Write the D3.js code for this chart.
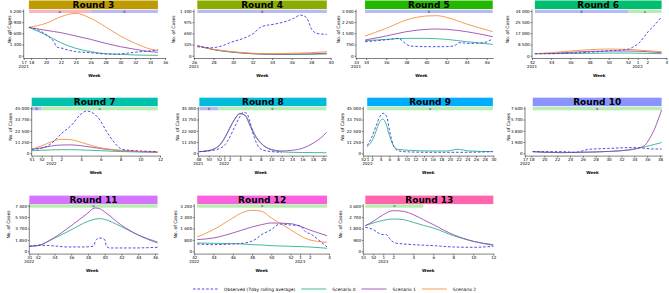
<!DOCTYPE html>
<html>
<head>
<meta charset="utf-8">
<script src="https://cdn.jsdelivr.net/npm/d3@7"></script>
<style>
  body { margin: 0; background: #fff; }
  svg text { font-family: "DejaVu Sans", sans-serif; }
</style>
</head>
<body>
<div id="chart"></div>
<script>
// ---- data (week index: weeks of the following year continue after 52) ----
const roundNames = ["Round 3","Round 4","Round 5","Round 6","Round 7","Round 8","Round 9","Round 10","Round 11","Round 12","Round 13"];
const roundColors = ["#BE9C00","#8CAB00","#24B700","#00BE70","#00C1AB","#00BBDA","#00ACFC","#8B93FF","#D575FE","#F962DD","#FF65AC"];
const seriesNames = ["Observed (7day rolling average)","Scenario 0","Scenario 1","Scenario 2"];

// Round 3
const r3Weeks = [17.7, 20, 22, 24, 26, 28, 30, 32, 34, 35.05];
const r3S0 = [3300, 2410, 1510, 860, 470, 230, 160, 80, 50, 50];
const r3S1 = [3300, 2950, 2680, 2290, 1900, 1440, 1050, 740, 470, 395];
const r3S2 = [3300, 3770, 4540, 4930, 4350, 3370, 2290, 1440, 780, 580];
const r3ObsWeeks = [17.7, 19, 20, 21, 21.5, 22, 23, 24, 26, 28, 29.5, 31, 32.5, 34, 35.05];
const r3Obs = [3300, 2950, 2450, 1700, 1000, 900, 650, 480, 350, 200, 180, 300, 450, 560, 680];
const r3XTicks = [17, 18, 20, 22, 24, 26, 28, 30, 32, 34, 36];
const r3XLabels = ["17","18","20","22","24","26","28","30","32","34","36"];
const r3YTicks = [0, 1300, 2600, 3900, 5200];
const r3Years = [[17, "2021"]];
const r3Phases = [[17.7, 26, "alpha"], [26, 35.05, "delta"]];

// Round 4
const r4Weeks = [26.34, 28, 30, 32, 34, 36, 38, 39.6];
const r4S0 = [291, 175, 100, 55, 38, 35, 40, 50];
const r4S1 = [291, 180, 105, 62, 45, 45, 55, 70];
const r4S2 = [291, 186, 116, 70, 58, 70, 87, 116];
const r4ObsWeeks = [26.34, 27.8, 28.8, 29.9, 31.05, 32.1, 32.9, 34.3, 35.3, 36.2, 36.9, 37.5, 38.1, 38.6, 39.6];
const r4Obs = [262, 233, 280, 400, 504, 649, 843, 921, 988, 1085, 1182, 1114, 746, 649, 620];
const r4XTicks = [26, 28, 30, 32, 34, 36, 38, 40];
const r4XLabels = ["26","28","30","32","34","36","38","40"];
const r4YTicks = [0, 325, 650, 975, 1300];
const r4Years = [[26, "2021"]];
const r4Phases = [[26.34, 39.6, "delta"]];

// Round 5
const r5Weeks = [33.9, 36, 38, 40, 41, 42, 44, 46.6];
const r5S0 = [1008, 1097, 1164, 1164, 1142, 1097, 940, 761];
const r5S1 = [1052, 1321, 1612, 1769, 1791, 1769, 1612, 1276];
const r5S2 = [1321, 1836, 2396, 2664, 2687, 2575, 2127, 1612];
const r5ObsWeeks = [33.9, 35.06, 36.4, 37.2, 37.9, 38.4, 40.4, 41.7, 42.7, 43.3, 44.3, 45.7, 46.5];
const r5Obs = [940, 1008, 1097, 1164, 828, 649, 605, 605, 649, 873, 828, 873, 1097];
const r5XTicks = [33, 34, 36, 38, 40, 42, 44, 46];
const r5XLabels = ["33","34","36","38","40","42","44","46"];
const r5YTicks = [0, 750, 1500, 2250, 3000];
const r5Years = [[33, "2021"]];
const r5Phases = [[33.9, 46.6, "delta"]];

// Round 6
const r6Weeks = [42.3, 44, 46, 48, 50, 52, 54, 55.5];
const r6S0 = [1522, 1522, 1776, 1776, 2030, 2030, 1776, 1522];
const r6S1 = [1522, 1776, 2537, 3298, 3552, 3552, 3044, 2283];
const r6S2 = [1522, 2283, 3552, 4567, 5074, 4820, 3806, 3044];
const r6ObsWeeks = [42.3, 44, 46, 48, 50, 52, 52.5, 53.1, 53.6, 54.1, 54.8, 55.5];
const r6Obs = [1522, 1600, 1900, 2700, 3700, 4820, 6500, 9400, 13500, 18300, 23500, 29700];
const r6XTicks = [42, 44, 46, 48, 50, 52, 53, 54, 56];
const r6XLabels = ["42","44","46","48","50","52","1","2","4"];
const r6YTicks = [0, 8500, 17000, 25500, 34000];
const r6Years = [[42, "2021"], [53, "2022"]];
const r6Phases = [[42.3, 52, "delta"], [52, 55.5, "omicron"]];

// Round 7
const r7Weeks = [51, 52, 53, 54, 55, 56, 57, 58, 59, 60, 62, 63.77];
const r7S0 = [2600, 3000, 3400, 3600, 3600, 3400, 3000, 2600, 2100, 1800, 1300, 900];
const r7S1 = [4000, 5500, 7300, 8300, 8400, 7600, 6200, 4700, 3500, 2700, 1700, 1100];
const r7S2 = [4000, 7500, 11500, 14000, 13500, 11000, 8000, 5500, 4000, 3000, 1800, 1200];
const r7ObsWeeks = [51, 52, 53, 54.04, 55.05, 55.9, 56.57, 57.24, 57.9, 58.6, 59.44, 59.95, 60.6, 61.97, 63.76];
const r7Obs = [4000, 5000, 10000, 20000, 28333, 38333, 42333, 40000, 33333, 21667, 10000, 5000, 3333, 2333, 1667];
const r7XTicks = [51, 52, 53, 54, 56, 58, 60, 62, 64];
const r7XLabels = ["51","52","1","2","4","6","8","10","12"];
const r7YTicks = [0, 11250, 22500, 33750, 45000];
const r7Years = [[53, "2022"]];
const r7Phases = [[51, 52, "delta"], [52, 63.77, "omicron"]];

// Round 8
const r8Weeks = [48.2, 50, 51, 52, 53, 54, 55, 56, 57, 58, 59, 60, 61, 62, 64, 66, 68, 70, 72, 72.6];
const r8S0 = [1667, 2667, 4333, 7667, 14500, 24500, 34000, 39500, 38000, 28000, 17500, 10500, 6000, 3500, 1500, 1000, 800, 700, 600, 600];
const r8S1 = [1667, 2667, 4333, 7667, 15000, 25000, 34333, 40000, 37667, 26667, 16667, 10000, 6000, 4000, 2333, 3000, 5000, 10000, 17667, 21000];
const r8ObsWeeks = [48.2, 49.9, 51.2, 52.2, 53.1, 54.1, 55, 56, 56.6, 57.3, 57.9, 58.5, 59.2, 59.8, 60.8, 62.1, 64];
const r8Obs = [1667, 2333, 3333, 5000, 8333, 16667, 26667, 36667, 41000, 40000, 31667, 20000, 10000, 5000, 2667, 1667, 1000];
const r8XTicks = [48, 50, 52, 53, 54, 56, 58, 60, 62, 64, 66, 68, 70, 72];
const r8XLabels = ["48","50","52","1","2","4","6","8","10","12","14","16","18","20"];
const r8YTicks = [0, 11250, 22500, 33750, 45000];
const r8Years = [[48, "2021"], [53, "2022"]];
const r8Phases = [[48.2, 51.85, "delta"], [51.85, 72.6, "omicron"]];

// Round 9
const r9Weeks = [52.9, 53.9, 54.9, 55.8, 56.5, 57.2, 58.1, 59.1, 60, 62.7, 67.3, 71.2, 73.8, 76.5, 81.9];
const r9S0 = [6667, 11667, 21667, 31667, 34333, 30000, 16667, 6667, 4000, 3000, 2333, 2333, 4000, 2333, 1667];
const r9ObsWeeks = [52.9, 53.9, 54.9, 55.8, 56.6, 57.4, 58.1, 58.9, 59.7, 61.2, 67.3, 75, 81.9];
const r9Obs = [7667, 15667, 26667, 36667, 40000, 36667, 21667, 8333, 3333, 1667, 1000, 1000, 1667];
const r9XTicks = [52, 53, 54, 56, 58, 60, 62, 64, 66, 68, 70, 72, 74, 76, 78, 80, 82];
const r9XLabels = ["52","1","2","4","6","8","10","12","14","16","18","20","22","24","26","28","30"];
const r9YTicks = [0, 11250, 22500, 33750, 45000];
const r9Years = [[53, "2022"]];
const r9Phases = [[52.9, 81.9, "omicron"]];

// Round 10
const r10Weeks = [18.2, 20.1, 22.7, 25.3, 27.9, 30.5, 33.1, 34.6, 35.7, 36.4, 37.2, 37.7, 38.25];
const r10S0 = [282, 169, 113, 169, 225, 338, 563, 845, 1126, 1295, 1520, 1650, 1802];
const r10S1 = [282, 169, 113, 169, 225, 338, 563, 845, 1408, 2534, 4223, 5630, 7319];
const r10ObsWeeks = [18.2, 22.7, 24.8, 25.9, 26.9, 27.9, 30.5, 33.1, 34.6, 35.7, 36.7, 38.25];
const r10Obs = [282, 282, 169, 394, 676, 732, 845, 957, 957, 845, 732, 732];
const r10XTicks = [17, 18, 20, 22, 24, 26, 28, 30, 32, 34, 36, 38];
const r10XLabels = ["17","18","20","22","24","26","28","30","32","34","36","38"];
const r10YTicks = [0, 1900, 3800, 5700, 7600];
const r10Years = [[17, "2022"]];
const r10Phases = [[18.2, 38.25, "omicron"]];

// Round 11
const r11Weeks = [31, 32, 33.9, 35.9, 38, 38.8, 39.4, 39.9, 41.9, 43.9, 46.3];
const r11S0 = [812, 920, 2056, 3408, 4869, 5200, 5302, 5200, 4058, 2705, 1515];
const r11S1 = [812, 920, 2164, 4058, 6222, 7033, 6925, 6492, 4328, 2705, 1353];
const r11ObsWeeks = [31, 32, 33.5, 34.5, 35.5, 37.5, 38.6, 39, 39.4, 40, 40.2, 40.6, 43.4, 46.3];
const r11Obs = [812, 974, 920, 812, 703, 703, 812, 1894, 2164, 1894, 812, 541, 541, 649];
const r11XTicks = [31, 32, 34, 36, 38, 40, 42, 44, 46];
const r11XLabels = ["31","32","34","36","38","40","42","44","46"];
const r11YTicks = [0, 1850, 3700, 5550, 7400];
const r11Years = [[31, "2022"]];
const r11Phases = [[31, 46.3, "omicron"]];

// Round 12
const r12Weeks = [42.3, 44, 46, 46.9, 48, 49, 50, 52, 53, 53.9, 55.8];
const r12S0 = [585, 561, 538, 515, 468, 444, 398, 351, 327, 304, 211];
const r12S1 = [819, 936, 1286, 1474, 1707, 1871, 1988, 1941, 1754, 1520, 1099];
const r12S2 = [1006, 1520, 2339, 2690, 2877, 2807, 2339, 1520, 1099, 819, 632];
const r12ObsWeeks = [42.3, 44, 46, 47.3, 48.3, 49, 50, 50.9, 52, 53, 53.5, 54.2, 55.1, 55.8];
const r12Obs = [515, 468, 515, 585, 819, 1170, 1520, 1918, 1848, 1801, 1403, 1170, 702, 304];
const r12XTicks = [42, 44, 46, 48, 50, 52, 53, 54, 56];
const r12XLabels = ["42","44","46","48","50","52","1","2","4"];
const r12YTicks = [0, 800, 1600, 2400, 3200];
const r12Years = [[42, "2022"], [53, "2023"]];
const r12Phases = [[42.3, 55.8, "omicron"]];

// Round 13
const r13Weeks = [51.2, 52, 53, 54, 55, 56, 57, 58, 60, 62, 64];
const r13S0 = [2025, 2236, 2446, 2551, 2499, 2288, 2051, 1841, 1236, 789, 526];
const r13S1 = [2025, 2367, 2893, 3209, 3156, 2893, 2499, 2104, 1315, 789, 473];
const r13ObsWeeks = [51.2, 52, 52.5, 53, 53.3, 53.7, 54.2, 55, 56, 58, 60, 62, 64];
const r13Obs = [1894, 1710, 1447, 1315, 1315, 921, 658, 579, 526, 447, 342, 316, 395];
const r13XTicks = [51, 52, 53, 54, 56, 58, 60, 62, 64];
const r13XLabels = ["51","52","1","2","4","6","8","10","12"];
const r13YTicks = [0, 900, 1800, 2700, 3600];
const r13Years = [[53, "2023"]];
const r13Phases = [[51.2, 57, "omicron"]];

// ---- layout (pixel placement of each small panel) ----
const rows = [
  { stripY: 0.5, y0: 55.7, yTop: 11 },
  { stripY: 97.7, y0: 153.3, yTop: 108.3 },
  { stripY: 195.6, y0: 251.3, yTop: 205.7 }
];

const panels = [
  { row: 0, dom: [17, 36], rng: [23.7, 165], labX: 9,
    weeks: r3Weeks, s0: r3S0, s1: r3S1, s2: r3S2, obsWeeks: r3ObsWeeks, obs: r3Obs,
    xt: r3XTicks, xl: r3XLabels, yt: r3YTicks, years: r3Years, phases: r3Phases },
  { row: 0, dom: [26, 40], rng: [194, 330.7], labX: 173,
    weeks: r4Weeks, s0: r4S0, s1: r4S1, s2: r4S2, obsWeeks: r4ObsWeeks, obs: r4Obs,
    xt: r4XTicks, xl: r4XLabels, yt: r4YTicks, years: r4Years, phases: r4Phases },
  { row: 0, dom: [33, 46], rng: [356, 486.7], labX: 338,
    weeks: r5Weeks, s0: r5S0, s1: r5S1, s2: r5S2, obsWeeks: r5ObsWeeks, obs: r5Obs,
    xt: r5XTicks, xl: r5XLabels, yt: r5YTicks, years: r5Years, phases: r5Phases },
  { row: 0, dom: [42, 56], rng: [532, 666.4], labX: 507,
    weeks: r6Weeks, s0: r6S0, s1: r6S1, s2: r6S2, obsWeeks: r6ObsWeeks, obs: r6Obs,
    xt: r6XTicks, xl: r6XLabels, yt: r6YTicks, years: r6Years, phases: r6Phases },
  { row: 1, dom: [51, 64], rng: [31.7, 160], labX: 10,
    weeks: r7Weeks, s0: r7S0, s1: r7S1, s2: r7S2, obsWeeks: r7ObsWeeks, obs: r7Obs,
    xt: r7XTicks, xl: r7XLabels, yt: r7YTicks, years: r7Years, phases: r7Phases },
  { row: 1, dom: [48, 72], rng: [198.3, 323.3], labX: 177,
    weeks: r8Weeks, s0: r8S0, s1: r8S1, s2: null, obsWeeks: r8ObsWeeks, obs: r8Obs,
    xt: r8XTicks, xl: r8XLabels, yt: r8YTicks, years: r8Years, phases: r8Phases },
  { row: 1, dom: [52, 82], rng: [363.3, 493.3], labX: 342,
    weeks: r9Weeks, s0: r9S0, s1: null, s2: null, obsWeeks: r9ObsWeeks, obs: r9Obs,
    xt: r9XTicks, xl: r9XLabels, yt: r9YTicks, years: r9Years, phases: r9Phases },
  { row: 1, dom: [17, 38], rng: [525, 660], labX: 508,
    weeks: r10Weeks, s0: r10S0, s1: r10S1, s2: null, obsWeeks: r10ObsWeeks, obs: r10Obs,
    xt: r10XTicks, xl: r10XLabels, yt: r10YTicks, years: r10Years, phases: r10Phases },
  { row: 2, dom: [31, 46], rng: [29.3, 155], labX: 8,
    weeks: r11Weeks, s0: r11S0, s1: r11S1, s2: null, obsWeeks: r11ObsWeeks, obs: r11Obs,
    xt: r11XTicks, xl: r11XLabels, yt: r11YTicks, years: r11Years, phases: r11Phases },
  { row: 2, dom: [42, 56], rng: [194.3, 329], labX: 175,
    weeks: r12Weeks, s0: r12S0, s1: r12S1, s2: r12S2, obsWeeks: r12ObsWeeks, obs: r12Obs,
    xt: r12XTicks, xl: r12XLabels, yt: r12YTicks, years: r12Years, phases: r12Phases },
  { row: 2, dom: [51, 64], rng: [363.3, 493.3], labX: 340,
    weeks: r13Weeks, s0: r13S0, s1: r13S1, s2: null, obsWeeks: r13ObsWeeks, obs: r13Obs,
    xt: r13XTicks, xl: r13XLabels, yt: r13YTicks, years: r13Years, phases: r13Phases }
];

const obsColor = "#3b3bea";
const scenColors = ["#2db38e", "#9a4cb0", "#f5913c"];
const phaseColors = { alpha: "#f6b6c6", delta: "#b9b9f3", omicron: "#b8edb2" };
const phaseMarks = { alpha: "α", delta: "δ", omicron: "ο" };

const fmt = v => v >= 1000 ? d3.format(",")(v).replace(/,/g, " ") : String(v);

const svg = d3.select("#chart").append("svg")
  .attr("width", 669)
  .attr("height", 293);

panels.forEach((p, i) => {
  const r = rows[p.row];
  const x = d3.scaleLinear().domain(p.dom).range(p.rng);
  const y = d3.scaleLinear().domain([0, d3.max(p.yt)]).range([r.y0, r.yTop]);
  const g = svg.append("g");
  const ext = d3.extent(p.weeks);
  const axisY = r.y0 + 2.8;

  // strip with round title
  g.append("rect")
    .attr("x", x(ext[0])).attr("y", r.stripY)
    .attr("width", x(ext[1]) - x(ext[0])).attr("height", 8.5)
    .attr("fill", roundColors[i]);
  g.append("text")
    .attr("x", (x(ext[0]) + x(ext[1])) / 2)
    .attr("y", r.stripY + 7.3)
    .attr("text-anchor", "middle")
    .style("font-size", "9px").style("font-weight", "bold")
    .text(roundNames[i]);

  // variant phase bar
  p.phases.forEach(ph => {
    g.append("rect")
      .attr("x", x(ph[0])).attr("y", r.yTop - 1.3)
      .attr("width", x(ph[1]) - x(ph[0])).attr("height", 3.3)
      .attr("fill", phaseColors[ph[2]]);
    g.append("text")
      .attr("x", x((ph[0] + ph[1]) / 2)).attr("y", r.yTop + 1.5)
      .attr("text-anchor", "middle")
      .style("font-size", "3.6px").attr("fill", "#23237a")
      .text(phaseMarks[ph[2]]);
  });

  // axes
  const xAxis = g.append("g")
    .attr("transform", `translate(0,${axisY})`)
    .call(d3.axisBottom(x).tickValues(p.xt).tickFormat((d, k) => p.xl[k]).tickSize(1.5).tickPadding(0.6).tickSizeOuter(0));
  xAxis.select(".domain").remove();
  xAxis.append("line")
    .attr("x1", p.rng[0]).attr("x2", Math.max(p.rng[1], x(ext[1])) + 1)
    .attr("stroke", "#000").attr("stroke-width", 0.5);
  xAxis.selectAll(".tick line").attr("stroke-width", 0.5);
  xAxis.selectAll(".tick text").style("font-size", "4.1px").attr("fill", "#000");

  p.years.forEach(yr => {
    g.append("text")
      .attr("x", x(yr[0])).attr("y", r.y0 + 12)
      .attr("text-anchor", "middle")
      .style("font-size", "4px")
      .text(yr[1]);
  });

  const yAxis = g.append("g")
    .attr("transform", `translate(${p.rng[0]},0)`)
    .call(d3.axisLeft(y).tickValues(p.yt).tickFormat(fmt).tickSize(1.5).tickPadding(0.8));
  yAxis.select(".domain").remove();
  yAxis.append("line")
    .attr("y1", axisY).attr("y2", r.yTop - 1.5)
    .attr("stroke", "#000").attr("stroke-width", 0.5);
  yAxis.selectAll(".tick line").attr("stroke-width", 0.5);
  yAxis.selectAll(".tick text").style("font-size", "4.1px").attr("fill", "#000");

  g.append("text")
    .attr("transform", `translate(${p.labX},${(r.y0 + r.yTop) / 2 - 4}) rotate(-90)`)
    .attr("text-anchor", "middle")
    .attr("dy", "0.35em")
    .style("font-size", "4.5px")
    .text("No. of Cases");

  g.append("text")
    .attr("x", (p.rng[0] + p.rng[1]) / 2).attr("y", r.y0 + 21)
    .attr("text-anchor", "middle")
    .style("font-size", "4px").style("font-weight", "bold")
    .text("Week");

  // scenario lines, then observed
  const line = d3.line()
    .x(d => x(d[0]))
    .y(d => y(d[1]))
    .curve(d3.curveMonotoneX);

  [p.s0, p.s1, p.s2].forEach((s, k) => {
    if (!s) return;
    g.append("path")
      .datum(p.weeks.map((w, j) => [w, s[j]]))
      .attr("d", line)
      .attr("fill", "none")
      .attr("stroke", scenColors[k])
      .attr("stroke-width", 0.9);
  });

  g.append("path")
    .datum(p.obsWeeks.map((w, j) => [w, p.obs[j]]))
    .attr("d", line)
    .attr("fill", "none")
    .attr("stroke", obsColor)
    .attr("stroke-width", 0.9)
    .attr("stroke-dasharray", "2.6,1.8");
});

// legend
const legend = svg.append("g").attr("transform", "translate(0,289)");
let lx = 193;
seriesNames.forEach((name, k) => {
  legend.append("line")
    .attr("x1", lx).attr("x2", lx + 25)
    .attr("y1", 0).attr("y2", 0)
    .attr("stroke", k === 0 ? obsColor : scenColors[k - 1])
    .attr("stroke-width", 0.9)
    .attr("stroke-dasharray", k === 0 ? "2.6,1.8" : null);
  const t = legend.append("text")
    .attr("x", lx + 31).attr("y", 1.5)
    .style("font-size", "4.4px")
    .text(name);
  lx += 31 + t.node().getComputedTextLength() + 6;
});
</script>
</body>
</html>
